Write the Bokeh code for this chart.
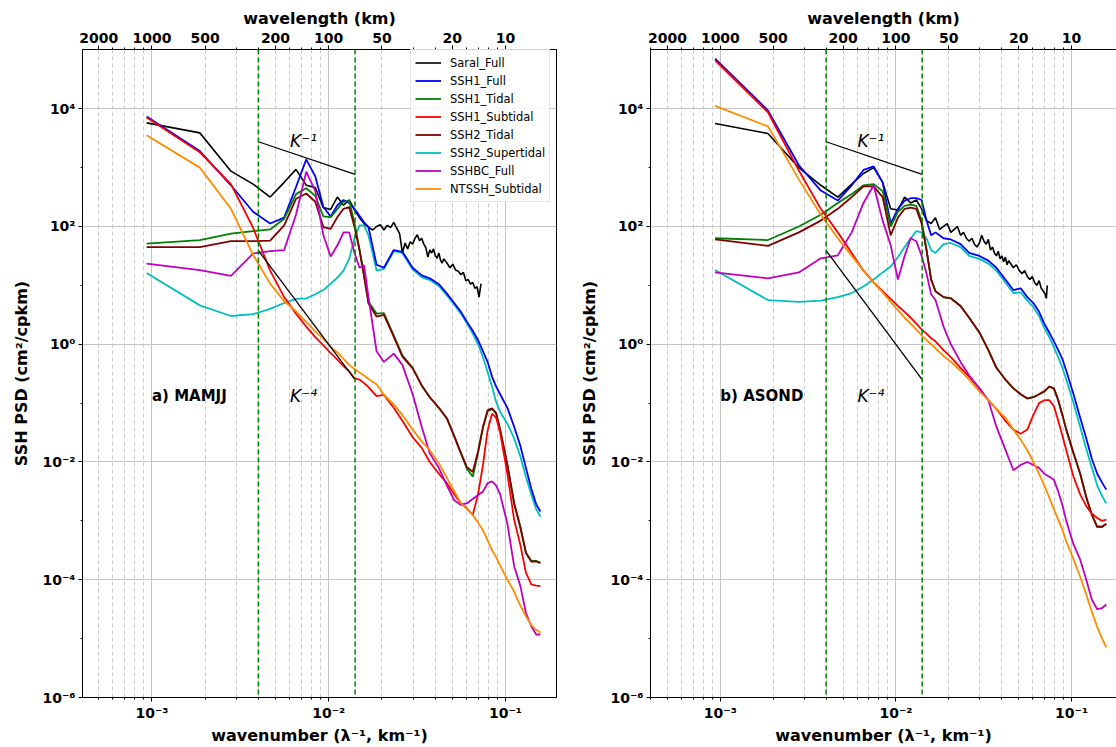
import numpy as np
from bokeh.plotting import figure
from bokeh.models import (FixedTicker, LogAxis, CustomJSTickFormatter, Span,
                          Legend, LegendItem, Label, Range1d)
from bokeh.layouts import row
from bokeh.embed import file_html
from bokeh.resources import INLINE

# ---------------- data (wavenumber in cpkm, PSD as log10 values) -------------
k_grid = [0.000933, 0.001866, 0.002799, 0.003732, 0.004665, 0.005598, 0.006531, 0.007464,
          0.008397, 0.00933, 0.01026, 0.0112, 0.01213, 0.01306, 0.0140, 0.01493, 0.01586,
          0.01679, 0.01866, 0.02053, 0.02333, 0.02612, 0.02986, 0.03359, 0.03732, 0.04199,
          0.04665, 0.05132, 0.05598, 0.06065, 0.06531, 0.06998, 0.07464, 0.07931, 0.08397,
          0.08864, 0.0933, 0.1026, 0.1120, 0.1213, 0.1306, 0.1400, 0.1493, 0.1577]

k_saral = [0.000933, 0.001866, 0.002799, 0.003732, 0.004665, 0.005598, 0.006531, 0.007464,
           0.008397, 0.00933, 0.01026, 0.0112, 0.01213, 0.01306, 0.0140, 0.01493, 0.01586,
           0.01679, 0.01773, 0.01866, 0.01959, 0.02053, 0.02146, 0.02239, 0.02333, 0.02426,
           0.02519, 0.02612, 0.02706, 0.02799, 0.02892, 0.02986, 0.03079, 0.03172, 0.03266,
           0.03359, 0.03452, 0.03545, 0.03639, 0.03732, 0.03825, 0.03919, 0.04012, 0.04105,
           0.04199, 0.04292, 0.04385, 0.04478, 0.04665, 0.04852, 0.05038, 0.05225, 0.05411,
           0.05598, 0.05785, 0.05971, 0.06158, 0.06344, 0.06531, 0.06718, 0.06904, 0.07091,
           0.07184, 0.07277]

# ---- panel a) MAMJJ ----
saral_full_a = [3.76, 3.59, 2.94, 2.72, 2.50, 2.75, 2.97, 2.70, 2.66, 2.32, 2.29, 2.50, 2.36,
                2.45, 2.28, 2.15, 2.05, 1.99, 1.94, 2.00, 2.03, 1.94, 2.02, 1.98, 2.07, 1.97,
                1.88, 1.55, 1.72, 1.62, 1.74, 1.70, 1.80, 1.86, 1.76, 1.80, 1.70, 1.64, 1.48,
                1.60, 1.55, 1.62, 1.50, 1.46, 1.55, 1.43, 1.38, 1.45, 1.38, 1.30, 1.36, 1.26,
                1.24, 1.18, 1.22, 1.08, 1.10, 1.02, 1.05, 0.95, 0.98, 0.80, 0.92, 1.03]
ssh1_full_a = [3.87, 3.28, 2.70, 2.25, 2.05, 2.15, 2.67, 3.14, 2.85, 2.33, 2.17, 2.36, 2.45,
               2.40, 2.30, 2.18, 2.07, 1.99, 1.35, 1.30, 1.60, 1.57, 1.30, 1.17, 1.12, 1.02,
               0.86, 0.70, 0.55, 0.38, 0.23, 0.07, -0.12, -0.30, -0.55, -0.72, -0.85, -1.08,
               -1.40, -1.72, -2.10, -2.45, -2.72, -2.84]
ssh1_tidal_a = [1.71, 1.77, 1.88, 1.92, 1.95, 2.13, 2.55, 2.65, 2.52, 2.17, 2.16, 2.30, 2.42,
                2.44, 2.05, 1.62, 1.17, 0.72, 0.52, 0.53, 0.15, -0.19, -0.40, -0.70, -0.90,
                -1.08, -1.26, -1.56, -1.85, -2.12, -2.25, -1.85, -1.42, -1.14, -1.10, -1.18,
                -1.45, -2.05, -2.70, -3.10, -3.54, -3.68, -3.68, -3.71]
ssh1_subtidal_a = [3.85, 3.26, 2.72, 1.98, 1.25, 0.80, 0.52, 0.30, 0.12, -0.02, -0.15, -0.26,
                   -0.37, -0.46, -0.58, -0.60, -0.66, -0.73, -0.88, -0.86, -1.08, -1.30, -1.58,
                   -1.76, -2.00, -2.20, -2.36, -2.55, -2.70, -2.79, -2.90, -2.55, -2.05, -1.46,
                   -1.18, -1.25, -1.50, -2.20, -2.98, -3.40, -3.88, -4.08, -4.10, -4.11]
ssh2_tidal_a = [1.65, 1.65, 1.75, 1.75, 1.76, 2.02, 2.47, 2.56, 2.42, 1.99, 1.96, 2.16, 2.30,
                2.33, 1.99, 1.60, 1.15, 0.69, 0.47, 0.50, 0.13, -0.21, -0.41, -0.70, -0.90,
                -1.08, -1.26, -1.56, -1.85, -2.09, -2.17, -1.82, -1.40, -1.12, -1.09, -1.17,
                -1.45, -2.05, -2.70, -3.10, -3.54, -3.69, -3.69, -3.72]
ssh2_supertidal_a = [1.21, 0.66, 0.48, 0.51, 0.60, 0.70, 0.77, 0.78, 0.85, 0.92, 1.03, 1.13,
                     1.25, 1.45, 1.80, 2.02, 2.02, 1.85, 1.25, 1.28, 1.58, 1.55, 1.27, 1.14,
                     1.09, 0.99, 0.83, 0.67, 0.52, 0.35, 0.18, 0.00, -0.22, -0.47, -0.72, -0.98,
                     -1.15, -1.35, -1.60, -1.90, -2.25, -2.55, -2.80, -2.93]
sshbc_full_a = [1.37, 1.26, 1.16, 1.54, 1.58, 1.60, 2.20, 2.93, 2.60, 1.85, 1.49, 1.68, 1.90,
                1.90, 1.55, 1.30, 1.34, 0.80, -0.12, -0.30, -0.16, -0.35, -0.85, -1.40, -1.85,
                -2.10, -2.40, -2.65, -2.73, -2.70, -2.63, -2.56, -2.50, -2.36, -2.33, -2.40,
                -2.55, -3.05, -3.77, -4.10, -4.56, -4.79, -4.93, -4.93]
ntssh_subtidal_a = [3.55, 3.00, 2.30, 1.52, 1.03, 0.73, 0.56, 0.38, 0.22, 0.09, -0.04, -0.14,
                    -0.25, -0.35, -0.42, -0.48, -0.53, -0.59, -0.68, -0.86, -1.02, -1.20, -1.45,
                    -1.65, -1.80, -2.02, -2.27, -2.50, -2.70, -2.80, -2.90, -3.03, -3.16, -3.33,
                    -3.50, -3.62, -3.76, -4.00, -4.20, -4.44, -4.62, -4.77, -4.85, -4.90]

# ---- panel b) ASOND ----
saral_full_b = [3.75, 3.58, 3.00, 2.70, 2.50, 2.72, 2.90, 3.00, 2.75, 2.30, 2.28, 2.50, 2.40,
                2.45, 2.30, 2.10, 2.05, 2.15, 1.95, 2.00, 2.05, 1.90, 1.95, 2.00, 1.85, 1.90,
                1.80, 1.75, 1.80, 1.70, 1.65, 1.72, 1.85, 1.75, 1.70, 1.78, 1.60, 1.65, 1.55,
                1.50, 1.58, 1.45, 1.50, 1.40, 1.48, 1.35, 1.42, 1.38, 1.30, 1.35, 1.25, 1.20,
                1.25, 1.15, 1.10, 1.15, 1.05, 1.00, 1.08, 0.95, 0.90, 0.85, 0.78, 1.00]
ssh1_full_b = [4.85, 3.97, 3.04, 2.61, 2.44, 2.70, 2.96, 3.02, 2.75, 2.05, 2.30, 2.44, 2.48,
               2.48, 2.45, 2.10, 1.85, 1.90, 1.80, 1.78, 1.70, 1.55, 1.50, 1.42, 1.30, 1.10,
               0.92, 0.95, 0.80, 0.70, 0.55, 0.35, 0.20, 0.05, -0.10, -0.25, -0.45, -0.85,
               -1.25, -1.60, -1.95, -2.20, -2.35, -2.47]
ssh1_tidal_b = [1.80, 1.77, 2.00, 2.20, 2.40, 2.55, 2.70, 2.72, 2.60, 2.00, 2.25, 2.35, 2.37,
                2.35, 2.10, 1.60, 1.10, 0.90, 0.80, 0.78, 0.65, 0.45, 0.20, -0.10, -0.40, -0.60,
                -0.75, -0.85, -0.92, -0.90, -0.85, -0.80, -0.72, -0.75, -0.95, -1.20, -1.45,
                -1.85, -2.20, -2.60, -2.90, -3.10, -3.10, -3.05]
ssh1_subtidal_b = [4.82, 3.94, 2.95, 2.30, 1.90, 1.55, 1.25, 1.05, 0.90, 0.77, 0.65, 0.55, 0.45,
                   0.35, 0.25, 0.18, 0.10, 0.05, -0.10, -0.22, -0.40, -0.55, -0.75, -0.95, -1.10,
                   -1.30, -1.45, -1.52, -1.45, -1.20, -1.00, -0.95, -0.95, -1.05, -1.30, -1.55,
                   -1.80, -2.25, -2.55, -2.75, -2.88, -2.95, -3.00, -2.98]
ssh2_tidal_b = [1.78, 1.67, 1.90, 2.10, 2.30, 2.50, 2.68, 2.68, 2.50, 1.85, 2.15, 2.30, 2.32,
                2.30, 2.05, 1.60, 1.10, 0.90, 0.80, 0.78, 0.65, 0.45, 0.20, -0.10, -0.40, -0.60,
                -0.75, -0.85, -0.92, -0.90, -0.85, -0.80, -0.72, -0.75, -0.95, -1.20, -1.45,
                -1.85, -2.20, -2.60, -2.90, -3.10, -3.10, -3.05]
ssh2_supertidal_b = [1.26, 0.75, 0.72, 0.74, 0.80, 0.87, 0.98, 1.10, 1.22, 1.32, 1.48, 1.65,
                     1.80, 1.92, 1.90, 1.80, 1.60, 1.55, 1.70, 1.72, 1.65, 1.50, 1.45, 1.37,
                     1.25, 1.05, 0.87, 0.88, 0.74, 0.63, 0.48, 0.28, 0.12, -0.05, -0.22, -0.40,
                     -0.60, -1.00, -1.40, -1.78, -2.10, -2.40, -2.58, -2.70]
sshbc_full_b = [1.22, 1.12, 1.22, 1.46, 1.51, 1.90, 2.40, 2.70, 2.10, 1.68, 1.10, 1.50, 1.80,
                1.75, 1.50, 1.20, 0.85, 0.75, 0.30, 0.00, -0.30, -0.53, -0.75, -0.95, -1.40,
                -1.79, -2.14, -2.05, -2.00, -2.05, -2.10, -2.20, -2.25, -2.30, -2.50, -2.73,
                -3.00, -3.40, -3.66, -4.00, -4.34, -4.50, -4.48, -4.42]
ntssh_subtidal_b = [4.05, 3.70, 2.80, 2.20, 1.80, 1.50, 1.25, 1.05, 0.88, 0.72, 0.58, 0.45,
                    0.35, 0.25, 0.15, 0.07, 0.00, -0.07, -0.20, -0.30, -0.45, -0.60, -0.80,
                    -0.95, -1.10, -1.25, -1.45, -1.62, -1.80, -2.00, -2.20, -2.40, -2.60, -2.80,
                    -2.98, -3.15, -3.35, -3.65, -3.95, -4.25, -4.55, -4.80, -5.00, -5.15]

# reference slopes and band limits
ref_k = [0.004, 0.0141]
ref_k_minus1 = [2750.0, 770.0]
ref_k_minus4 = [39.0, 0.25]
band_k = [0.004, 0.0141]

series_names = ["Saral_Full", "SSH1_Full", "SSH1_Tidal", "SSH1_Subtidal", "SSH2_Tidal",
                "SSH2_Supertidal", "SSHBC_Full", "NTSSH_Subtidal"]
series_colors = ["#000000", "#0000ff", "#008000", "#ff0000", "#800000", "#00bfbf", "#bf00bf",
                 "#ff8c00"]
panel_tags = ["a) MAMJJ", "b) ASOND"]
wavelength_ticks_km = [2000, 1000, 500, 200, 100, 50, 20, 10]

FONT = "DejaVu Sans"
SUP_JS = """
const sup = {"-":"\u207b","0":"\u2070","1":"\u00b9","2":"\u00b2","3":"\u00b3","4":"\u2074",
             "5":"\u2075","6":"\u2076","7":"\u2077","8":"\u2078","9":"\u2079"};
const e = Math.round(Math.log10(tick));
return "10" + String(e).split("").map(c => sup[c]).join("");
"""

minor_x = [m * 10.0 ** e for e in (-4, -3, -2, -1) for m in range(2, 10)]
top_major = [1.0 / w for w in wavelength_ticks_km]
top_minor = [t for t in minor_x if all(abs(t - q) / q > 1e-6 for q in top_major)]


def style_axis(ax):
    ax.major_label_text_font = FONT
    ax.major_label_text_font_size = "14px"
    ax.major_label_text_font_style = "bold"
    ax.major_label_text_color = "black"
    ax.axis_label_text_font = FONT
    ax.axis_label_text_font_size = "16px"
    ax.axis_label_text_font_style = "bold"
    ax.axis_label_text_color = "black"
    ax.axis_line_color = "black"
    ax.major_tick_line_color = "black"
    ax.minor_tick_line_color = "black"
    ax.major_tick_in = 0
    ax.major_tick_out = 4
    ax.minor_tick_in = 0
    ax.minor_tick_out = 2
    ax.major_label_standoff = 3
    ax.axis_label_standoff = 2


def make_panel(data, saral, tag, width, left, right, xr, outline, legend_on):
    p = figure(width=width, height=747, x_axis_type="log", y_axis_type="log",
               x_range=Range1d(*xr), y_range=Range1d(1e-6, 1.014e5),
               output_backend="svg", toolbar_location=None,
               min_border_left=left, min_border_right=right,
               min_border_top=49, min_border_bottom=49)
    p.background_fill_color = "white"
    p.border_fill_color = "white"
    p.outline_line_color = "black" if outline else None

    bottom = p.below[0]
    bottom.ticker = FixedTicker(ticks=[1e-3, 1e-2, 1e-1], minor_ticks=minor_x)
    bottom.formatter = CustomJSTickFormatter(code=SUP_JS)
    bottom.axis_label = "wavenumber (\u03bb\u207b\u00b9, km\u207b\u00b9)"
    left_ax = p.left[0]
    left_ax.ticker = FixedTicker(ticks=[1e-6, 1e-4, 1e-2, 1, 1e2, 1e4],
                                 minor_ticks=[1e-5, 1e-3, 1e-1, 1e1, 1e3])
    left_ax.formatter = CustomJSTickFormatter(code=SUP_JS)
    left_ax.axis_label = "SSH PSD (cm\u00b2/cpkm)"

    top = LogAxis(ticker=FixedTicker(ticks=top_major, minor_ticks=top_minor),
                  formatter=CustomJSTickFormatter(code="return String(Math.round(1/tick));"),
                  axis_label="wavelength (km)")
    p.add_layout(top, "above")
    for ax in [bottom, left_ax, top]:
        style_axis(ax)
    left_ax.axis_label_standoff = 8

    p.xgrid.grid_line_color = "#c4c4c4"
    p.xgrid.grid_line_width = 1
    p.xgrid.minor_grid_line_color = "#bcbcbc"
    p.xgrid.minor_grid_line_dash = "4 3"
    p.xgrid.minor_grid_line_width = 0.8
    p.ygrid.grid_line_color = "#c4c4c4"
    p.ygrid.grid_line_width = 1

    for loc in band_k:
        p.add_layout(Span(location=loc, dimension="height", line_color="#008000",
                          line_dash="5 3", line_width=1.5))

    renderers = {}
    order = [5, 0, 1, 2, 4, 3, 6, 7]
    for i in order:
        if i == 0:
            r = p.line(k_saral, np.power(10.0, saral), line_color=series_colors[0], line_width=1.6)
        else:
            r = p.line(k_grid, np.power(10.0, data[i - 1]), line_color=series_colors[i],
                       line_width=1.8)
        renderers[i] = r

    p.line(ref_k, ref_k_minus1, line_color="black", line_width=1.3)
    p.line(ref_k, ref_k_minus4, line_color="black", line_width=1.3)

    p.add_layout(Label(x=1e-3, y=0.132, text=tag, text_font=FONT, text_font_size="15px",
                       text_font_style="bold", text_baseline="middle", text_align="left",
                       text_color="black"))
    p.add_layout(Label(x=7.2e-3, y=0.132, text="K\u207b\u2074", text_font=FONT,
                       text_font_size="17px", text_font_style="italic", text_color="black",
                       text_baseline="middle", text_align="center"))
    p.add_layout(Label(x=7.2e-3, y=2790.0, text="K\u207b\u00b9", text_font=FONT,
                       text_font_size="17px", text_font_style="italic", text_color="black",
                       text_baseline="middle", text_align="center"))

    if legend_on:
        items = [LegendItem(label=series_names[i], renderers=[renderers[i]]) for i in range(8)]
        lg = Legend(items=items, location=(328, 495), label_text_font=FONT,
                    label_text_font_size="11.5px", glyph_width=26, glyph_height=17,
                    label_height=17, spacing=1, padding=4, margin=0, label_standoff=9,
                    border_line_color="#cccccc", background_fill_alpha=0.85,
                    label_text_color="black")
        p.add_layout(lg)
    return p


data_a = [ssh1_full_a, ssh1_tidal_a, ssh1_subtidal_a, ssh2_tidal_a, ssh2_supertidal_a,
          sshbc_full_a, ntssh_subtidal_a]
data_b = [ssh1_full_b, ssh1_tidal_b, ssh1_subtidal_b, ssh2_tidal_b, ssh2_supertidal_b,
          sshbc_full_b, ntssh_subtidal_b]

p1 = make_panel(data_a, saral_full_a, panel_tags[0], 575, 82, 19, (4.046e-4, 0.1945), True, True)
p2 = make_panel(data_b, saral_full_b, panel_tags[1], 541, 75, 0, (4.0e-4, 0.1803), False, False)

layout = row(p1, p2)
open("out.html", "w").write(file_html(layout, INLINE))
